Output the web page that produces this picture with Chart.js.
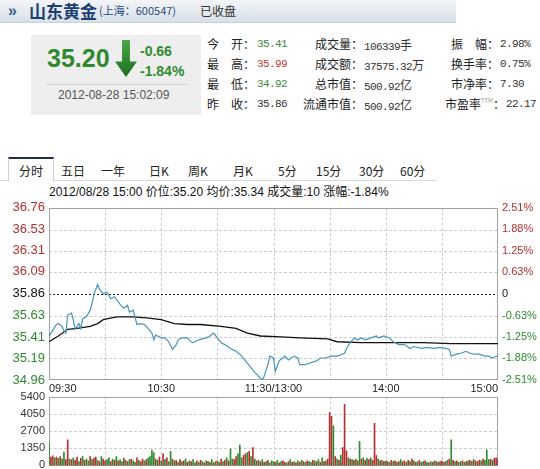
<!DOCTYPE html>
<html>
<head>
<meta charset="utf-8">
<script src="https://cdn.jsdelivr.net/npm/chart.js@4.4.0/dist/chart.umd.min.js"></script>
<style>
html, body { margin: 0; padding: 0; width: 540px; height: 469px; overflow: hidden; background: #fff;
  font-family: Arial, "Liberation Sans", "Noto Sans CJK SC", sans-serif; color: #222; }
.abs { position: absolute; white-space: nowrap; line-height: 1; }
.cjk { font-family: "Noto Sans CJK SC", sans-serif; }
#head { position: absolute; left: 0; top: 0; width: 456px; height: 22px;
  background: linear-gradient(#f3f5f8, #d9e0e8); border-bottom: 1px solid #c9d1db; }
#box { position: absolute; left: 31px; top: 35px; width: 170px; height: 80px; background: #eeeeee; }
#arrow { position: absolute; left: 115px; top: 40px; width: 22px; height: 37px;
  background: linear-gradient(#4aa84a, #1e6e1e);
  clip-path: polygon(32% 0, 68% 0, 68% 58%, 100% 58%, 50% 100%, 0 58%, 32% 58%); }
.lab { font-size: 12px; color: #222; }
.val { font-family: "Liberation Mono", monospace; font-size: 11px; letter-spacing: -0.6px; color: #333; }
.tab { font-size: 12px; color: #222; top: 165px; }
canvas { position: absolute; left: 0; }
</style>
</head>
<body>
<div id="head"></div>
<div class="abs" style="left:8px;top:3px;font-size:16px;font-weight:bold;color:#3b5f90;">»</div>
<div class="abs cjk" style="left:29px;top:2px;font-size:17px;font-weight:bold;color:#1e3d72;">山东黄金</div>
<div class="abs cjk" style="left:99px;top:5px;font-size:11px;color:#2a4a80;">(上海：600547)</div>
<div class="abs cjk" style="left:200px;top:5px;font-size:12px;color:#333;">已收盘</div>

<div id="box"></div>
<div class="abs" style="left:47px;top:46px;font-size:25px;font-weight:bold;color:#2f8a2f;">35.20</div>
<div id="arrow"></div>
<div class="abs" style="left:140px;top:44px;font-size:14px;font-weight:bold;color:#2f8a2f;">-0.66</div>
<div class="abs" style="left:140px;top:64px;font-size:14px;font-weight:bold;color:#2f8a2f;">-1.84%</div>
<div class="abs" style="left:46px;top:84px;width:142px;height:1px;background:#d4d4d4;"></div>
<div class="abs" style="left:58px;top:89px;font-size:12px;color:#555;">2012-08-28 15:02:09</div>

<div class="abs cjk lab" style="left:207px;top:38px;">今　开：</div>
<div class="abs cjk lab" style="left:207px;top:58px;">最　高：</div>
<div class="abs cjk lab" style="left:207px;top:78px;">最　低：</div>
<div class="abs cjk lab" style="left:207px;top:98px;">昨　收：</div>
<div class="abs val" style="left:257px;top:39px;color:#3c873c;">35.41</div>
<div class="abs val" style="left:257px;top:59px;color:#c23a3a;">35.99</div>
<div class="abs val" style="left:257px;top:79px;color:#3c873c;">34.92</div>
<div class="abs val" style="left:257px;top:99px;">35.86</div>

<div class="abs cjk lab" style="right:177px;top:38px;">成交量：</div>
<div class="abs cjk lab" style="right:177px;top:58px;">成交额：</div>
<div class="abs cjk lab" style="right:177px;top:78px;">总市值：</div>
<div class="abs cjk lab" style="right:177px;top:98px;">流通市值：</div>
<div class="abs val" style="left:364px;top:39px;">106339<span class="cjk" style="font-size:12px;">手</span></div>
<div class="abs val" style="left:364px;top:59px;">37575.32<span class="cjk" style="font-size:12px;">万</span></div>
<div class="abs val" style="left:364px;top:79px;">500.92<span class="cjk" style="font-size:12px;">亿</span></div>
<div class="abs val" style="left:364px;top:99px;">500.92<span class="cjk" style="font-size:12px;">亿</span></div>

<div class="abs cjk lab" style="right:41px;top:38px;">振　幅：</div>
<div class="abs cjk lab" style="right:41px;top:58px;">换手率：</div>
<div class="abs cjk lab" style="right:41px;top:78px;">市净率：</div>
<div class="abs cjk lab" style="right:35px;top:98px;">市盈率<span style="font-size:6px;color:#999;vertical-align:top;">TTM</span>：</div>
<div class="abs val" style="left:500px;top:39px;">2.98%</div>
<div class="abs val" style="left:500px;top:59px;">0.75%</div>
<div class="abs val" style="left:500px;top:79px;">7.30</div>
<div class="abs val" style="left:506px;top:99px;">22.17</div>

<div class="abs" style="left:0;top:180px;width:437px;height:1px;background:#d8d8d8;"></div>
<div class="abs" style="left:8px;top:157px;width:44px;height:22px;background:#fff;border-top:2px solid #24303e;border-left:1px solid #cfcfcf;border-right:1px solid #cfcfcf;border-bottom:1px solid #fff;"></div>
<div class="abs cjk tab" style="left:19px;">分时</div>
<div class="abs cjk tab" style="left:61px;">五日</div>
<div class="abs cjk tab" style="left:101px;">一年</div>
<div class="abs cjk tab" style="left:149px;">日K</div>
<div class="abs cjk tab" style="left:188px;">周K</div>
<div class="abs cjk tab" style="left:233px;">月K</div>
<div class="abs cjk tab" style="left:278px;">5分</div>
<div class="abs cjk tab" style="left:316px;">15分</div>
<div class="abs cjk tab" style="left:359px;">30分</div>
<div class="abs cjk tab" style="left:400px;">60分</div>
<div class="abs" style="left:49px;top:185px;font-size:12px;color:#111;">2012/08/28 15:00 <span class="cjk">价位</span>:35.20 <span class="cjk">均价</span>:35.34 <span class="cjk">成交量</span>:10 <span class="cjk">涨幅</span>:-1.84%</div>

<canvas id="main" width="540" height="198" style="top:196px;"></canvas>
<canvas id="vol" width="540" height="90" style="top:386px;"></canvas>

<script>
// Axis ticks
const prevClose = 35.86;
const priceTicks = [36.76, 36.53, 36.31, 36.09, 35.86, 35.63, 35.41, 35.19, 34.96];
const pctTicks = [2.51, 1.88, 1.25, 0.63, 0, -0.63, -1.25, -1.88, -2.51];
const volTicks = [5400, 4050, 2700, 1350, 0];
const timeTicks = [0, 60, 120, 180, 240];
const timeLabels = ['09:30', '10:30', '11:30/13:00', '14:00', '15:00'];
const gridMinutes = [30, 60, 90, 120, 150, 180, 210];

// Price line (minute since open, price)
const priceMin = [0, 1, 4, 5, 7, 8, 9, 10, 12, 13, 14, 16, 17, 18, 20, 22, 23, 24, 26, 27,
  29, 31, 33, 35, 38, 40, 42, 43, 45, 47, 49, 51, 53, 55, 56, 57, 60, 62, 64, 66,
  68, 69, 71, 74, 76, 77, 80, 84, 86, 88, 90, 92, 94, 97, 100, 102, 105, 108, 110, 113,
  114, 115, 117, 118, 120, 121, 123, 125, 126, 128, 131, 133, 134, 137, 140, 143, 145, 148, 151, 154,
  158, 159, 161, 163, 165, 167, 169, 172, 175, 176, 179, 182, 184, 187, 190, 193, 195, 199, 202, 206,
  209, 212, 214, 215, 218, 220, 223, 225, 227, 230, 233, 235, 237, 239, 240];
const priceVal = [35.41, 35.45, 35.54, 35.55, 35.52, 35.47, 35.45, 35.64, 35.66, 35.59, 35.49, 35.55, 35.50, 35.60, 35.62, 35.69, 35.76, 35.85, 35.96, 35.91,
  35.86, 35.88, 35.81, 35.83, 35.75, 35.71, 35.74, 35.67, 35.69, 35.54, 35.55, 35.54, 35.50, 35.45, 35.38, 35.43, 35.40, 35.40, 35.36, 35.28,
  35.33, 35.38, 35.40, 35.40, 35.36, 35.35, 35.38, 35.40, 35.42, 35.45, 35.40, 35.35, 35.33, 35.29, 35.26, 35.23, 35.16, 35.09, 35.04, 34.98,
  34.96, 35.00, 35.12, 35.21, 35.19, 35.05, 35.16, 35.19, 35.21, 35.17, 35.21, 35.19, 35.12, 35.12, 35.14, 35.16, 35.19, 35.19, 35.21, 35.21,
  35.24, 35.29, 35.35, 35.40, 35.38, 35.40, 35.38, 35.40, 35.42, 35.40, 35.42, 35.40, 35.36, 35.33, 35.33, 35.29, 35.31, 35.29, 35.30, 35.29,
  35.30, 35.29, 35.28, 35.21, 35.23, 35.24, 35.26, 35.24, 35.23, 35.23, 35.21, 35.21, 35.19, 35.21, 35.20];

// Average price line
const avgMin = [0, 5, 10, 15, 22, 26, 29, 36, 45, 52, 60, 67, 74, 81, 92, 100, 106, 113, 124, 134, 149, 154, 167, 200, 215, 240];
const avgVal = [35.36, 35.42, 35.49, 35.50, 35.52, 35.55, 35.59, 35.62, 35.62, 35.61, 35.59, 35.55, 35.54, 35.54, 35.52, 35.50, 35.45, 35.42, 35.41, 35.40, 35.39, 35.36, 35.35, 35.35, 35.34, 35.34];

// Volume per minute (241 bars) and direction (r = up, g = down)
const volume = [
  1800, 650, 750, 600, 650, 550, 700, 500, 1050, 450,
  2000, 500, 450, 600, 400, 650, 300, 550, 700, 400,
  500, 350, 700, 450, 550, 650, 400, 300, 700, 500,
  350, 450, 600, 300, 500, 400, 700, 350, 450, 300,
  550, 400, 300, 450, 500, 350, 250, 600, 400, 300,
  500, 350, 450, 600, 700, 1200, 1000, 500, 400, 650,
  350, 900, 450, 600, 300, 1100, 500, 350, 400, 250,
  450, 300, 350, 500, 250, 350, 300, 450, 200, 350,
  250, 400, 300, 200, 350, 300, 250, 450, 200, 300,
  350, 250, 500, 300, 400, 600, 350, 1280, 500, 450,
  700, 900, 1600, 600, 800, 900, 1000, 1100, 700, 1400,
  500, 350, 400, 300, 450, 250, 300, 400, 200, 350,
  300, 250, 400, 200, 300, 350, 250, 200, 300, 450,
  250, 300, 200, 350, 250, 400, 300, 250, 350, 300,
  250, 400, 350, 300, 450, 250, 600, 300, 350, 500,
  4150, 3850, 3100, 700, 500, 400, 800, 1400, 4800, 1150,
  600, 500, 450, 400, 500, 350, 1880, 500, 600, 400,
  550, 450, 600, 400, 3300, 780, 500, 350, 400, 300,
  350, 300, 250, 400, 300, 350, 250, 300, 450, 300,
  350, 250, 400, 300, 500, 350, 250, 300, 400, 250,
  300, 350, 250, 200, 300, 250, 350, 300, 250, 300,
  350, 250, 300, 400, 500, 2000, 400, 300, 350, 250,
  300, 350, 250, 300, 350, 400, 300, 450, 350, 300,
  400, 350, 500, 400, 1230, 450, 500, 400, 550, 600,
  450];
const volDir =
  'grrgrgrggr' + 'rgrgrrgrgr' + 'ggrgrrgrgr' + 'rggrgrgrgg' + 'rgrgrggrgr' +
  'rgrggggrgr' + 'grgrggrgrg' + 'rgrgrgrggr' + 'grgrgrggrg' + 'rgrgrgrggr' +
  'rgggrrgrgr' + 'grgrgrgrgg' + 'grgrgrrgrg' + 'rgrgrgrgrg' + 'grgrgrgrgr' +
  'rrgrgrgrrr' + 'grgrgrgrgr' + 'grgrrrgrgr' + 'grgrgrgrgr' + 'rgrgrgrgrg' +
  'grgrgrgrgr' + 'rgrgrgrgrg' + 'grgrgrgrgr' + 'rgrgggrgrr' + 'r';

const RED = '#b5302f';
const GREEN = '#2f8a2f';
const FONT = 'Arial, "Liberation Sans", sans-serif';

// Dashed grid + gray frame drawn from the chart's own scales
const framePlugin = {
  id: 'frame',
  beforeDatasetsDraw(chart, args, opts) {
    const { ctx, chartArea: a } = chart;
    const xs = chart.scales.x, ys = chart.scales.y;
    ctx.save();
    ctx.lineWidth = 1;
    ctx.setLineDash([3, 2]);
    ctx.strokeStyle = '#cdcdcd';
    gridMinutes.forEach(m => {
      const px = Math.round(xs.getPixelForValue(m)) + 0.5;
      ctx.beginPath(); ctx.moveTo(px, a.top); ctx.lineTo(px, a.bottom); ctx.stroke();
    });
    opts.hValues.forEach(v => {
      const py = Math.round(ys.getPixelForValue(v)) + 0.5;
      ctx.strokeStyle = v === opts.refValue ? '#222' : '#cdcdcd';
      ctx.setLineDash(v === opts.refValue ? [2, 2] : [3, 2]);
      ctx.beginPath(); ctx.moveTo(a.left, py); ctx.lineTo(a.right, py); ctx.stroke();
    });
    ctx.setLineDash([]);
    ctx.strokeStyle = '#a3a3a3';
    ctx.strokeRect(Math.round(a.left) + 0.5, Math.round(a.top) + 0.5,
      Math.round(a.width) - 1, Math.round(a.height) - 1);
    ctx.restore();
  }
};

const zip = (xs, ys) => xs.map((x, i) => ({ x, y: ys[i] }));

new Chart(document.getElementById('main'), {
  type: 'line',
  data: {
    datasets: [{
      data: zip(priceMin, priceVal),
      borderColor: '#4893bb',
      borderWidth: 1.2,
      pointRadius: 0,
      yAxisID: 'y'
    }, {
      data: zip(avgMin, avgVal),
      borderColor: '#111',
      borderWidth: 1.3,
      pointRadius: 0,
      yAxisID: 'y'
    }]
  },
  options: {
    responsive: false,
    animation: false,
    devicePixelRatio: 1,
    layout: { padding: { top: 9, left: 0, right: 0, bottom: 0 } },
    plugins: {
      legend: { display: false },
      tooltip: { enabled: false },
      frame: { hValues: priceTicks.slice(1, -1), refValue: prevClose }
    },
    scales: {
      x: {
        type: 'linear', min: 0, max: 240,
        grid: { display: false, drawTicks: false },
        border: { display: false },
        afterBuildTicks: s => { s.ticks = timeTicks.map(v => ({ value: v })); },
        afterFit: s => { s.height = 14; },
        ticks: {
          align: 'inner', autoSkip: false, maxRotation: 0, padding: 2,
          color: '#222', font: { family: FONT, size: 11 },
          callback: (v) => timeLabels[timeTicks.indexOf(v)]
        }
      },
      y: {
        position: 'left', min: 34.96, max: 36.76,
        grid: { display: false, drawTicks: false },
        border: { display: false },
        afterBuildTicks: s => { s.ticks = priceTicks.map(v => ({ value: v })); },
        afterFit: s => { s.width = 49; },
        ticks: {
          padding: 4, font: { family: FONT, size: 13 },
          color: c => c.tick.value > prevClose + 0.001 ? RED : (c.tick.value < prevClose - 0.001 ? GREEN : '#111'),
          callback: v => v.toFixed(2)
        }
      },
      pct: {
        position: 'right', min: -2.51, max: 2.51,
        grid: { display: false, drawTicks: false },
        border: { display: false },
        afterBuildTicks: s => { s.ticks = pctTicks.map(v => ({ value: v })); },
        afterFit: s => { s.width = 42; },
        ticks: {
          padding: 4, font: { family: FONT, size: 11 },
          color: c => c.tick.value > 0 ? RED : (c.tick.value < 0 ? GREEN : '#111'),
          callback: v => v === 0 ? '0' : v.toFixed(2) + '%'
        }
      }
    }
  },
  plugins: [framePlugin]
});

new Chart(document.getElementById('vol'), {
  type: 'bar',
  data: {
    datasets: [{
      data: volume.map((v, i) => ({ x: i, y: v })),
      backgroundColor: volume.map((v, i) => volDir[i] === 'r' ? RED : GREEN),
      barThickness: 1
    }]
  },
  options: {
    responsive: false,
    animation: false,
    devicePixelRatio: 1,
    layout: { padding: { top: 8, left: 0, right: 42, bottom: 7.5 } },
    plugins: {
      legend: { display: false },
      tooltip: { enabled: false },
      frame: { hValues: volTicks.slice(1, -1), refValue: null }
    },
    scales: {
      x: {
        type: 'linear', min: 0, max: 240, offset: false, display: false
      },
      y: {
        position: 'left', min: 0, max: 5400,
        grid: { display: false, drawTicks: false },
        border: { display: false },
        afterBuildTicks: s => { s.ticks = volTicks.map(v => ({ value: v })); },
        afterFit: s => { s.width = 49; },
        ticks: {
          padding: 4, color: '#333', font: { family: FONT, size: 11 },
          callback: v => String(v)
        }
      }
    }
  },
  plugins: [framePlugin]
});
</script>
</body>
</html>
